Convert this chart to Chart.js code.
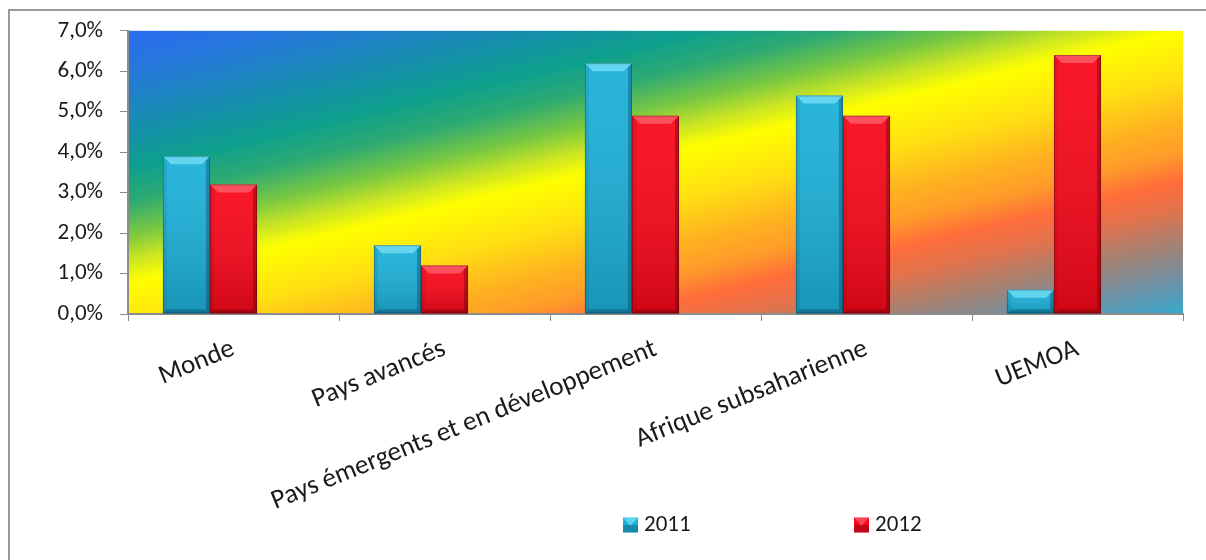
<!DOCTYPE html>
<html lang="fr">
<head>
<meta charset="utf-8">
<title>Croissance 2011–2012</title>
<script src="https://cdn.jsdelivr.net/npm/chart.js@4.4.1/dist/chart.umd.min.js"></script>
<style>
  html, body { margin: 0; padding: 0; background: #ffffff; }
  #wrap { position: relative; width: 1206px; height: 560px; overflow: hidden; }
  canvas { display: block; }
</style>
</head>
<body>
<div id="wrap"><canvas id="chart" width="1206" height="560"></canvas></div>
<script>
// Regions and yearly growth rates (in %)
const categories = ['Monde', 'Pays avancés', 'Pays émergents et en développement', 'Afrique subsaharienne', 'UEMOA'];
const growth2011 = [3.9, 1.7, 6.2, 5.4, 0.6];
const growth2012 = [3.2, 1.2, 4.9, 4.9, 6.4];
// third series column of the table, left without values: it still keeps its slot in each group
const emptySeries = [];
const seriesLabels = ['2011', '2012'];
const yTickValues = [0, 1, 2, 3, 4, 5, 6, 7];

const FONT = "Carlito, Lato, 'Liberation Sans', sans-serif";
const AXIS_GREY = '#8c8c8c';

// bar colours: base fill, bevel highlight, shadow edge
const barStyle = [
  { fill: '#1cb0d9', light: 'rgba(150,240,255,0.55)', dark: 'rgba(0,40,70,0.30)' },
  { fill: '#f8081a', light: 'rgba(255,150,160,0.45)', dark: 'rgba(70,0,0,0.32)' }
];

// rainbow fill of the plot area, tilted so the bands rise toward the right
const areaStops = [
  [0.00, '#2c6bf2'],
  [0.08, '#2579da'],
  [0.19, '#1590aa'],
  [0.26, '#0ea08c'],
  [0.32, '#2eaa72'],
  [0.38, '#78c842'],
  [0.43, '#cde622'],
  [0.47, '#ffff00'],
  [0.56, '#ffdf12'],
  [0.64, '#ffb320'],
  [0.70, '#ff9a2a'],
  [0.75, '#ff6d3a'],
  [0.80, '#e4724c'],
  [0.86, '#aa806e'],
  [0.93, '#7290a2'],
  [1.00, '#36a9cd']
];

const frameAndBackground = {
  id: 'frameAndBackground',
  beforeDraw(chart) {
    const { ctx, chartArea: a } = chart;
    ctx.save();
    // outer frame (top and left edges)
    ctx.strokeStyle = '#9a9a9a';
    ctx.lineWidth = 2;
    ctx.beginPath();
    ctx.moveTo(9, chart.height);
    ctx.lineTo(9, 10);
    ctx.lineTo(chart.width, 10);
    ctx.stroke();
    // plot area gradient
    const w = a.right - a.left, h = a.bottom - a.top;
    const dx = 0.24, dy = 1, n = Math.hypot(dx, dy);
    const ux = dx / n, uy = dy / n;
    const len = w * ux + h * uy;
    const g = ctx.createLinearGradient(a.left, a.top, a.left + ux * len, a.top + uy * len);
    areaStops.forEach(([t, c]) => g.addColorStop(t, c));
    ctx.fillStyle = g;
    ctx.fillRect(a.left, a.top, w, h);
    ctx.restore();
  }
};

// bevelled look on top of each bar drawn by the library
const bevelBars = {
  id: 'bevelBars',
  afterDatasetsDraw(chart) {
    const { ctx } = chart;
    ctx.save();
    chart.data.datasets.forEach((ds, di) => {
      const style = barStyle[di];
      if (!style) return;
      chart.getDatasetMeta(di).data.forEach(bar => {
        const { x, y, base, width } = bar.getProps(['x', 'y', 'base', 'width'], true);
        const left = x - width / 2, right = x + width / 2;
        const top = Math.min(y, base), bottom = Math.max(y, base);
        const h = bottom - top;
        if (h <= 0) return;
        const b = Math.min(8, h / 2);
        const s = Math.min(4, h / 2);
        // vertical shading
        const vg = ctx.createLinearGradient(0, top, 0, bottom);
        vg.addColorStop(0, 'rgba(255,255,255,0.06)');
        vg.addColorStop(1, 'rgba(0,0,0,0.16)');
        ctx.fillStyle = vg;
        ctx.fillRect(left, top, width, h);
        // top bevel
        ctx.fillStyle = style.light;
        ctx.beginPath();
        ctx.moveTo(left, top);
        ctx.lineTo(right, top);
        ctx.lineTo(right - b, top + b);
        ctx.lineTo(left + b, top + b);
        ctx.closePath();
        ctx.fill();
        // left bevel
        ctx.fillStyle = 'rgba(0,0,0,0.07)';
        ctx.beginPath();
        ctx.moveTo(left, top);
        ctx.lineTo(left + s, top + s);
        ctx.lineTo(left + s, bottom - s);
        ctx.lineTo(left, bottom);
        ctx.closePath();
        ctx.fill();
        // right bevel
        ctx.fillStyle = style.dark;
        ctx.beginPath();
        ctx.moveTo(right, top);
        ctx.lineTo(right - s, top + s);
        ctx.lineTo(right - s, bottom - s);
        ctx.lineTo(right, bottom);
        ctx.closePath();
        ctx.fill();
        // bottom bevel
        ctx.fillStyle = style.dark;
        ctx.beginPath();
        ctx.moveTo(left, bottom);
        ctx.lineTo(left + s, bottom - s);
        ctx.lineTo(right - s, bottom - s);
        ctx.lineTo(right, bottom);
        ctx.closePath();
        ctx.fill();
        // outline
        ctx.strokeStyle = 'rgba(0,0,0,0.25)';
        ctx.lineWidth = 1;
        ctx.strokeRect(left + 0.5, top + 0.5, width - 1, h - 1);
      });
    });
    ctx.restore();
  }
};

// legend along the bottom
const legendLayout = { firstX: 623, step: 231, y: 525, box: 15, gap: 6 };
const bottomLegend = {
  id: 'bottomLegend',
  afterDraw(chart) {
    const { ctx } = chart;
    const L = legendLayout;
    ctx.save();
    ctx.font = `23px ${FONT}`;
    ctx.textBaseline = 'middle';
    chart.data.datasets.forEach((ds, di) => {
      const style = barStyle[di];
      if (!style || !ds.label) return;
      const bx = L.firstX + di * L.step, by = L.y - L.box / 2;
      ctx.fillStyle = ds.backgroundColor;
      ctx.fillRect(bx, by, L.box, L.box);
      ctx.fillStyle = 'rgba(0,0,0,0.22)';
      ctx.fillRect(bx, by + L.box / 2, L.box, L.box / 2);
      ctx.fillStyle = style.light;
      ctx.beginPath();
      ctx.moveTo(bx, by);
      ctx.lineTo(bx + L.box, by);
      ctx.lineTo(bx + L.box / 2, by + L.box * 0.55);
      ctx.closePath();
      ctx.fill();
      ctx.fillStyle = '#1a1a1a';
      ctx.fillText(ds.label, bx + L.box + L.gap, L.y);
    });
    ctx.restore();
  }
};

const fmtPct = v => v.toFixed(1).replace('.', ',') + '%';

new Chart(document.getElementById('chart'), {
  type: 'bar',
  data: {
    labels: categories,
    datasets: [
      { label: seriesLabels[0], data: growth2011, backgroundColor: barStyle[0].fill, borderWidth: 0 },
      { label: seriesLabels[1], data: growth2012, backgroundColor: barStyle[1].fill, borderWidth: 0 },
      { label: '', data: emptySeries, backgroundColor: 'rgba(0,0,0,0)' }
    ]
  },
  options: {
    responsive: false,
    animation: false,
    devicePixelRatio: 1,
    categoryPercentage: 0.669,
    barPercentage: 1,
    layout: { padding: { top: 26, right: 23, bottom: 0, left: 0 } },
    plugins: {
      legend: { display: false },
      tooltip: { enabled: false }
    },
    scales: {
      x: {
        offset: true,
        grid: { offset: true, drawOnChartArea: false, drawTicks: true, tickLength: 7, color: AXIS_GREY, lineWidth: 1 },
        border: { display: true, color: AXIS_GREY, width: 2 },
        ticks: {
          autoSkip: false,
          minRotation: 22,
          maxRotation: 22,
          padding: 12,
          color: '#1a1a1a',
          font: { family: FONT, size: 27 }
        },
        afterFit(scale) { scale.height = 246; }
      },
      y: {
        min: 0,
        max: 7,
        afterBuildTicks(scale) { scale.ticks = yTickValues.map(v => ({ value: v })); },
        grid: { drawOnChartArea: false, drawTicks: true, tickLength: 8, color: AXIS_GREY, lineWidth: 1 },
        border: { display: true, color: AXIS_GREY, width: 2 },
        ticks: {
          padding: 17,
          color: '#1a1a1a',
          font: { family: FONT, size: 23 },
          callback: v => fmtPct(v)
        },
        afterFit(scale) { scale.width = 128; }
      }
    }
  },
  plugins: [frameAndBackground, bevelBars, bottomLegend]
});
</script>
</body>
</html>
